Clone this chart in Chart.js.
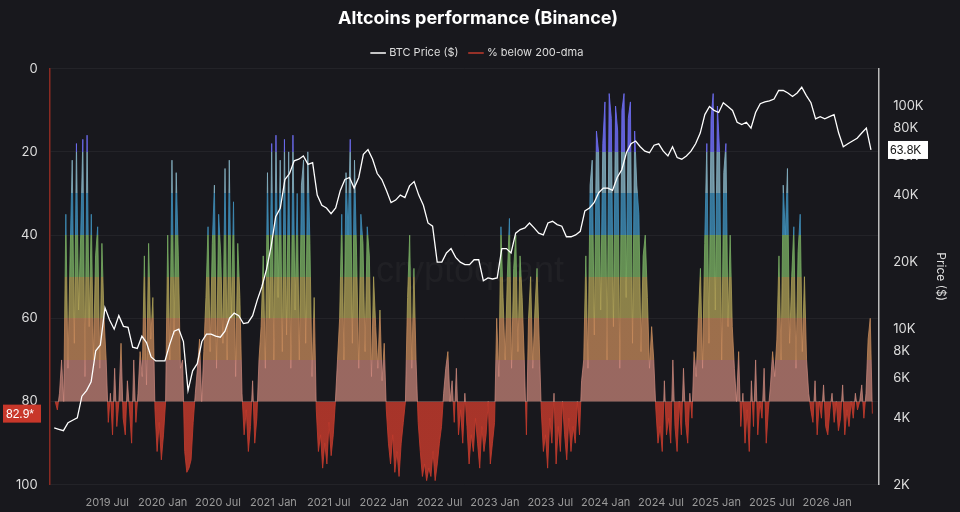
<!DOCTYPE html>
<html><head><meta charset="utf-8">
<script src="https://cdn.jsdelivr.net/npm/chart.js@4/dist/chart.umd.min.js"></script>
<style>html,body{margin:0;background:#18181d;}#w{width:960px;height:512px;}</style>
</head><body><div id="w"><canvas id="c"></canvas></div>
<script>
const pctStart = 2019.03;           // first weekly sample (decimal year)
const pctStepYears = 7 / 365.25;    // weekly
const pctBelow = [
80,82,78,70,80,
35,72,45,22,66,18,58,40,17,74,16,62,35,70,45,38,72,42,60,
70,85,78,88,72,86,80,66,84,88,75,82,90,70,85,78,68,74,
45,76,42,65,55,
82,92,85,94,88,80,
40,70,22,64,25,45,72,
70,92,97,96,94,85,78,
72,65,80,68,55,
38,68,42,28,72,35,45,66,24,70,22,60,32,74,42,55,
78,88,82,92,86,75,90,84,70,62,
45,72,25,60,18,70,16,55,22,68,17,64,20,72,16,58,30,70,28,22,66,20,42,74,55,
82,92,88,96,90,95,85,93,88,80,70,60,
35,70,25,40,17,66,22,45,72,35,42,68,38,45,74,50,
62,72,58,75,66,82,90,95,88,97,92,98,90,85,80,
55,40,72,48,70,
85,92,98,95,99,96,98,92,99,95,90,86,78,72,
68,80,75,85,72,88,82,90,78,86,95,88,92,84,90,96,86,92,88,80,95,90,85,
60,74,38,55,70,50,36,72,48,40,68,45,55,70,88,60,
50,72,58,48,65,
82,92,88,96,84,90,78,95,86,92,80,88,94,84,92,86,90,80,88,75,70,
45,72,28,22,64,15,20,58,18,8,70,6,12,62,9,15,72,10,6,55,12,8,66,15,28,
35,68,45,40,55,72,62,70,
82,90,86,92,75,88,84,90,70,86,92,80,88,72,85,90,78,84,68,74,
60,48,72,42,
18,66,12,6,58,9,20,70,25,18,62,40,
62,72,80,68,86,78,90,82,92,75,86,70,88,80,84,72,90,82,76,68,74,65,
45,70,28,40,24,66,50,38,72,44,35,68,50,
70,78,82,85,75,88,80,84,76,86,88,82,78,85,80,87,84,76,88,82,86,80,84,78,82,80,76,84,78,65,60,82.9
];
const btcStart = 2019;             // twice-monthly samples
const btcPrice = [
3600,3550,3500,3800,3900,4000,5000,5300,5800,8000,8500,12500,11000,10000,11500,10300,10200,8300,8200,9300,8700,7500,7200,7200,
7200,8500,9800,10000,8800,5300,6500,7000,8800,9500,9500,9300,9200,9800,11200,11800,11500,10600,10700,11500,13500,15500,18500,23500,
32000,35000,47000,50000,57000,58000,60000,55000,56000,40000,36000,35000,33000,35000,42000,47000,48000,43000,48000,61000,64000,58000,50000,47000,
42000,37000,38000,40000,39000,44000,46000,40000,36000,30000,29000,20000,20000,22000,23000,21000,20000,19500,19500,20500,20500,16500,17000,16800,
17000,23000,23000,22000,27000,28000,28500,30000,28500,27000,26500,30000,30500,29500,29000,26000,26000,26500,27500,34000,35000,37000,41000,43000,
43000,42000,48000,52000,62000,68000,70000,66000,63000,62000,67000,68000,63000,60000,66000,59000,58000,60000,63000,68000,76000,92000,100000,96000,
94000,104000,100000,96000,85000,83000,85000,80000,94000,103000,105000,106000,108000,118000,118000,115000,111000,115000,122000,112000,104000,88000,90000,88000,
90000,92000,76000,66000,68000,70000,72000,76000,80000,63800
];
const xTicks = [2019.5,2020,2020.5,2021,2021.5,2022,2022.5,2023,2023.5,2024,2024.5,2025,2025.5,2026];
const priceTicks = [2000,4000,6000,8000,10000,20000,40000,60000,80000,100000];
const bands = [[0,20,'rgba(109,108,242,0.85)'],[20,30,'rgba(134,179,196,0.8)'],[30,40,'rgba(63,143,186,0.8)'],[40,50,'rgba(120,173,98,0.8)'],[50,60,'rgba(178,164,88,0.75)'],[60,70,'rgba(201,140,92,0.75)'],[70,80,'rgba(208,138,126,0.7)'],[80,100,'rgba(193,58,44,0.85)']];

const pctData = pctBelow.map((v,i)=>({x:pctStart+i*pctStepYears,y:v}));
const btcData = btcPrice.map((v,i)=>({x:btcStart+(i+0.5)/24,y:v}));

function bandGradient(ctx){
  const ch=ctx.chart, a=ch.chartArea; if(!a) return '#c13a2c';
  const ys=ch.scales.y;
  const g=ch.ctx.createLinearGradient(0,ys.getPixelForValue(0),0,ys.getPixelForValue(100));
  bands.forEach(([lo,hi,c])=>{g.addColorStop(lo/100,c);g.addColorStop(Math.min(hi/100-0.0001,1),c);});
  return g;
}
function fmtK(v){return v>=1000?(v/1000)+'K':v;}

const badges={id:'badges',afterDraw(ch){
  const c=ch.ctx, ys=ch.scales.y, y2=ch.scales.y2;
  c.save();
  c.font='12px "Liberation Sans",Arial';c.textBaseline='middle';
  let py=ys.getPixelForValue(pctBelow[pctBelow.length-1]);
  c.fillStyle='#c8372a';c.fillRect(3,py-9,38,18);
  c.fillStyle='#fff';c.textAlign='left';c.fillText('82.9*',6,py+1);
  py=y2.getPixelForValue(btcPrice[btcPrice.length-1]);
  c.fillStyle='#fff';c.fillRect(888,py-9,40,18);
  c.fillStyle='#111';c.fillText('63.8K',890,py+1);
  c.restore();
},beforeDatasetsDraw(ch){
  const c=ch.ctx;c.save();c.font='36px "Liberation Sans",Arial';c.fillStyle='rgba(255,255,255,0.035)';
  c.textAlign='center';c.textBaseline='middle';c.fillText('cryptoquant',470,272);c.restore();
}};

new Chart(document.getElementById('c'),{
  type:'line',
  data:{datasets:[
    {label:'BTC Price ($)',data:btcData,yAxisID:'y2',borderColor:'#ffffff',backgroundColor:'#ffffff',borderWidth:1.3,pointRadius:0,tension:0,order:0},
    {label:'% below 200-dma',data:pctData,yAxisID:'y',borderColor:bandGradient,backgroundColor:bandGradient,borderWidth:1,pointRadius:0,tension:0,fill:{value:80},order:1}
  ]},
  plugins:[badges],
  options:{
    responsive:true,maintainAspectRatio:false,animation:false,
    layout:{padding:{left:4,right:8,top:4,bottom:0}},
    plugins:{
      title:{display:true,text:'Altcoins performance (Binance)',color:'#ffffff',font:{size:18,weight:'bold',family:'Inter'},padding:{top:4,bottom:6}},
      legend:{labels:{color:'#dddddd',usePointStyle:true,pointStyle:'line',boxWidth:14,font:{size:11,family:'Inter'},padding:12,
        generateLabels(ch){return ch.data.datasets.map((d,i)=>({text:d.label,strokeStyle:i?'#c13a2c':'#fff',fillStyle:i?'#c13a2c':'#fff',lineWidth:1.5,pointStyle:'line',fontColor:'#ddd',datasetIndex:i}));}}},
      tooltip:{enabled:false}
    },
    scales:{
      x:{type:'linear',min:2018.98,max:2026.47,
        afterBuildTicks(s){s.ticks=xTicks.map(v=>({value:v}));},
        ticks:{color:'#9a9a9a',font:{size:11,family:'Inter'},maxRotation:0,autoSkip:false,
          callback:v=>Math.floor(v)+(v%1?' Jul':' Jan')},
        grid:{display:false},border:{display:false}},
      y:{position:'left',min:0,max:100,reverse:true,
        ticks:{stepSize:20,color:'#dddddd',font:{size:13,family:'Inter'},padding:12},
        grid:{color:'rgba(255,255,255,0.05)',drawTicks:false},border:{display:true,color:'#8a2a22',width:1.5}},
      y2:{type:'logarithmic',position:'right',min:2000,max:148000,
        afterBuildTicks(s){s.ticks=priceTicks.map(v=>({value:v}));},
        ticks:{color:'#dddddd',font:{size:13,family:'Inter'},padding:6,callback:v=>fmtK(v)},
        title:{display:true,text:'Price ($)',color:'#dddddd',font:{size:12,family:'Inter'}},
        grid:{display:false},border:{display:true,color:'#bbbbbb',width:1.5}}
    }
  }
});
</script></body></html>
